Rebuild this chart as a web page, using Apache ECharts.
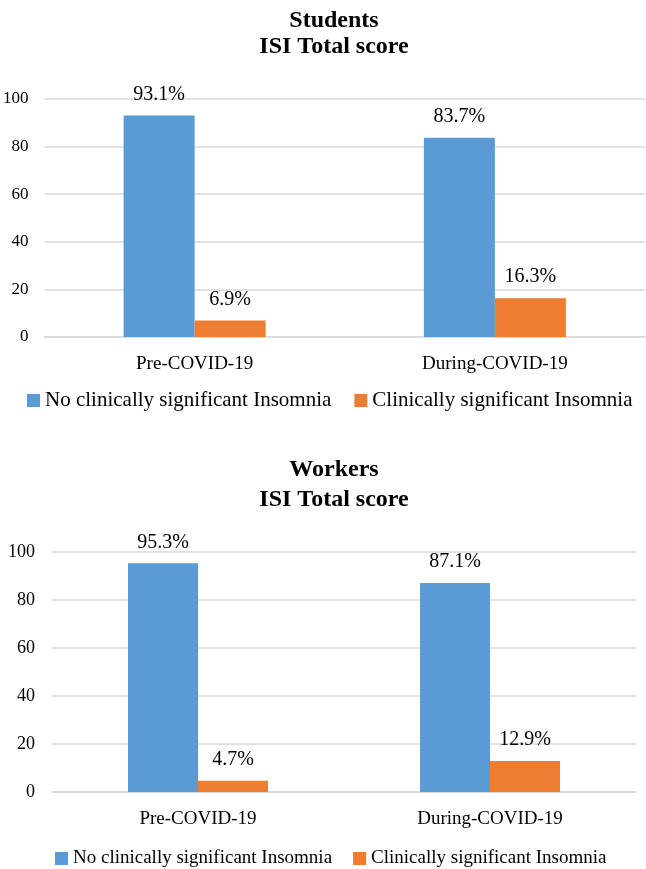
<!DOCTYPE html>
<html>
<head>
<meta charset="utf-8">
<script src="https://cdn.jsdelivr.net/npm/echarts@6/dist/echarts.min.js"></script>
<style>
html,body{margin:0;padding:0;background:#fff;}
#chart{width:646px;height:869px;}
</style>
</head>
<body>
<div id="chart"></div>
<script>
const categories = ['Pre-COVID-19', 'During-COVID-19'];
const seriesNames = ['No clinically significant Insomnia', 'Clinically significant Insomnia'];
const studentsNo = [93.1, 83.7];
const studentsYes = [6.9, 16.3];
const workersNo = [95.3, 87.1];
const workersYes = [4.7, 12.9];
const yTicks = [0, 20, 40, 60, 80, 100];

const FONT = '"Liberation Serif", "Times New Roman", serif';
const BLUE = '#5B9BD5';
const ORANGE = '#ED7D31';
const GRID = '#D9D9D9';

function xAx(gi, fs) {
  return {
    type: 'category', gridIndex: gi, data: categories,
    axisLine: { show: true, lineStyle: { color: GRID, width: 1.5 } },
    axisTick: { show: false },
    axisLabel: { color: '#000', fontFamily: FONT, fontSize: fs, margin: 18 }
  };
}
function yAx(gi, fs, margin) {
  return {
    type: 'value', gridIndex: gi, min: yTicks[0], max: yTicks[yTicks.length - 1], interval: 20,
    axisLine: { show: false }, axisTick: { show: false },
    splitLine: { lineStyle: { color: GRID, width: 1.5 } },
    axisLabel: { color: '#000', fontFamily: FONT, fontSize: fs, margin: margin }
  };
}
function bar(name, data, gi, color, bw) {
  return {
    name: name, type: 'bar', xAxisIndex: gi, yAxisIndex: gi, data: data,
    barWidth: bw, barGap: '0%',
    itemStyle: { color: color },
    label: { show: true, position: 'top', distance: 11, color: '#000', fontFamily: FONT, fontSize: 20,
      formatter: p => p.value.toFixed(1) + '%' }
  };
}

const chart = echarts.init(document.getElementById('chart'), null, { renderer: 'canvas' });
chart.setOption({
  animation: false,
  backgroundColor: '#fff',
  title: [
    { text: 'Students\nISI Total score', left: 329, top: 3, textAlign: 'center',
      textStyle: { fontFamily: FONT, fontWeight: 'bold', fontSize: 24, lineHeight: 26, color: '#000' } },
    { text: 'Workers\nISI Total score', left: 329, top: 450, textAlign: 'center',
      textStyle: { fontFamily: FONT, fontWeight: 'bold', fontSize: 24, lineHeight: 30, color: '#000' } }
  ],
  legend: [
    { left: 22, top: 385, itemWidth: 13, itemHeight: 13, itemGap: 23, icon: 'rect',
      data: seriesNames,
      textStyle: { fontFamily: FONT, fontSize: 21, color: '#000' } },
    { left: 50, top: 844, itemWidth: 13, itemHeight: 13, itemGap: 21, icon: 'rect',
      data: seriesNames,
      textStyle: { fontFamily: FONT, fontSize: 19, color: '#000' } }
  ],
  grid: [
    { left: 43, top: 99, width: 602, height: 238 },
    { left: 52, top: 552, width: 584, height: 240 }
  ],
  xAxis: [xAx(0, 19), xAx(1, 19)],
  yAxis: [yAx(0, 17, 16), yAx(1, 18, 17)],
  series: [
    bar(seriesNames[0], studentsNo, 0, BLUE, 71),
    bar(seriesNames[1], studentsYes, 0, ORANGE, 71),
    bar(seriesNames[0], workersNo, 1, BLUE, 70),
    bar(seriesNames[1], workersYes, 1, ORANGE, 70)
  ]
});
</script>
</body>
</html>
